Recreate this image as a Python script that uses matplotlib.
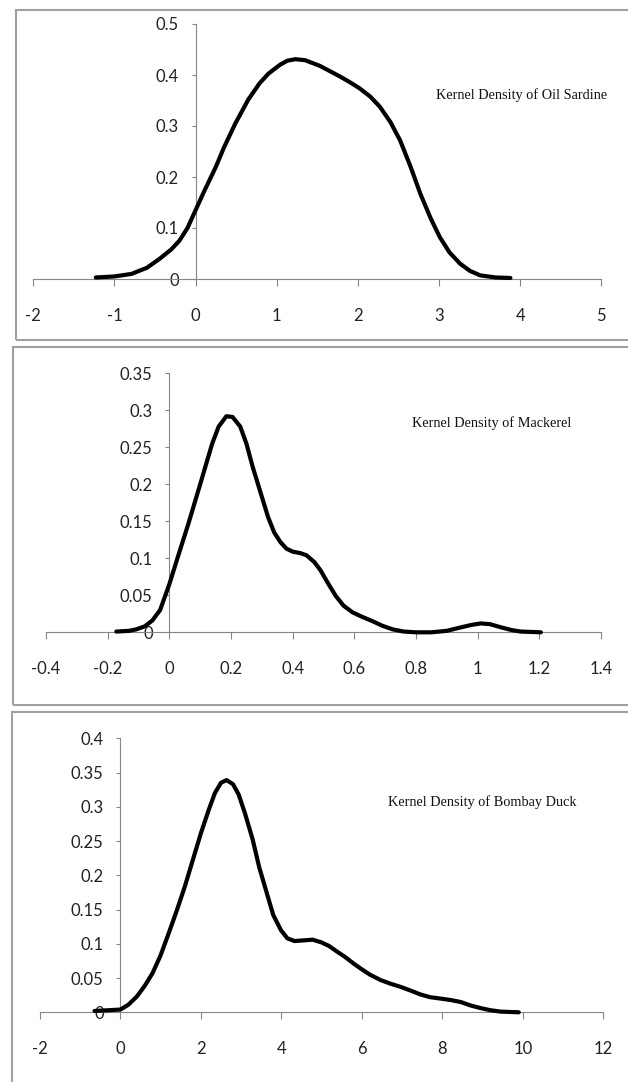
import matplotlib.pyplot as plt
from matplotlib.patches import Rectangle
from matplotlib.ticker import FormatStrFormatter

# Oil Sardine
sardine_x = [-1.23, -1.0, -0.79, -0.6, -0.44, -0.3, -0.2, -0.1, 0.0, 0.1, 0.25, 0.35, 0.49,
             0.65, 0.79, 0.9, 1.04, 1.13, 1.23, 1.35, 1.53, 1.65, 1.78, 1.9, 2.02, 2.15, 2.27,
             2.4, 2.52, 2.65, 2.77, 2.9, 3.01, 3.13, 3.26, 3.38, 3.51, 3.7, 3.88]
sardine_y = [0.003, 0.005, 0.01, 0.022, 0.04, 0.058, 0.075, 0.1, 0.135, 0.17, 0.22, 0.258,
             0.305, 0.352, 0.384, 0.403, 0.42, 0.428, 0.431, 0.429, 0.418, 0.408, 0.397, 0.386,
             0.374, 0.358, 0.338, 0.308, 0.272, 0.22, 0.167, 0.118, 0.082, 0.052, 0.03, 0.016,
             0.007, 0.003, 0.002]

# Mackerel
mackerel_x = [-0.172, -0.13, -0.107, -0.08, -0.055, -0.03, 0.0, 0.03, 0.062, 0.1, 0.139, 0.16,
              0.185, 0.205, 0.23, 0.25, 0.27, 0.295, 0.32, 0.34, 0.36, 0.38, 0.4, 0.425, 0.445,
              0.47, 0.49, 0.515, 0.54, 0.565, 0.594, 0.625, 0.659, 0.69, 0.724, 0.76, 0.80,
              0.85, 0.9, 0.944, 0.98, 1.01, 1.04, 1.075, 1.11, 1.14, 1.205]
mackerel_y = [0.001, 0.002, 0.004, 0.008, 0.016, 0.03, 0.065, 0.105, 0.147, 0.2, 0.255, 0.278,
              0.292, 0.291, 0.278, 0.255, 0.224, 0.19, 0.156, 0.135, 0.122, 0.113, 0.109, 0.107,
              0.104, 0.095, 0.084, 0.066, 0.049, 0.036, 0.027, 0.021, 0.015, 0.009, 0.004,
              0.001, 0.0, 0.0, 0.002, 0.0065, 0.01, 0.012, 0.011, 0.0068, 0.003, 0.001, 0.0]

# Bombay Duck
duck_x = [-0.64, -0.3, 0.0, 0.2, 0.41, 0.6, 0.8, 1.0, 1.2, 1.4, 1.6, 1.8, 2.0, 2.2, 2.35, 2.5,
          2.64, 2.8, 2.94, 3.1, 3.29, 3.45, 3.64, 3.8, 3.99, 4.15, 4.33, 4.55, 4.78, 5.0, 5.18,
          5.4, 5.58, 5.8, 5.97, 6.2, 6.47, 6.7, 6.97, 7.2, 7.46, 7.7, 7.96, 8.2, 8.46, 8.7,
          8.96, 9.2, 9.45, 9.9]
duck_y = [0.002, 0.003, 0.004, 0.011, 0.023, 0.038, 0.057, 0.083, 0.115, 0.148, 0.183, 0.222,
          0.261, 0.296, 0.32, 0.335, 0.339, 0.333, 0.318, 0.29, 0.252, 0.212, 0.174, 0.142,
          0.12, 0.108, 0.104, 0.105, 0.106, 0.102, 0.097, 0.088, 0.081, 0.071, 0.064, 0.055,
          0.047, 0.042, 0.037, 0.032, 0.026, 0.022, 0.02, 0.018, 0.015, 0.01, 0.006, 0.003,
          0.001, 0.0]

W, H = 628, 1082
fig = plt.figure(figsize=(W / 100, H / 100), dpi=100)

tick_font = ['Lato', 'DejaVu Sans']
axis_gray = '#868686'
border_gray = '#a0a0a0'


def px_axes(x0, x1, y_top, y_bot):
    return fig.add_axes([x0 / W, 1 - y_bot / H, (x1 - x0) / W, (y_bot - y_top) / H])


def panel(ax, xs, ys, xlim, xstep, ylim, ystep, label, lx, ly):
    ax.plot(xs, ys, color='black', lw=3, solid_capstyle='round', solid_joinstyle='round',
            zorder=5, clip_on=False)
    ax.set_xlim(*xlim)
    ax.set_ylim(*ylim)
    nx = round((xlim[1] - xlim[0]) / xstep)
    ax.set_xticks([round(xlim[0] + i * xstep, 2) for i in range(nx + 1)])
    ny = round((ylim[1] - ylim[0]) / ystep)
    ax.set_yticks([round(ylim[0] + i * ystep, 2) for i in range(ny + 1)])
    ax.xaxis.set_major_formatter(FormatStrFormatter('%g'))
    ax.yaxis.set_major_formatter(FormatStrFormatter('%g'))
    for s in ['top', 'right']:
        ax.spines[s].set_visible(False)
    ax.spines['left'].set_position(('data', 0))
    for s in ['left', 'bottom']:
        ax.spines[s].set_color(axis_gray)
        ax.spines[s].set_linewidth(0.8)
    ax.tick_params(axis='x', direction='out', length=5, width=0.8, color=axis_gray, pad=16,
                   labelcolor='#222222')
    ax.tick_params(axis='y', direction='out', length=3, width=0.8, color=axis_gray, pad=9,
                   labelcolor='#222222')
    for t in ax.get_xticklabels() + ax.get_yticklabels():
        t.set_family(tick_font)
        t.set_fontsize(12)
    ax.patch.set_alpha(0)
    fig.text(lx / W, 1 - ly / H, label, family='Liberation Serif', fontsize=10.3,
             ha='left', va='center', color='#111111')


ax1 = px_axes(33.3, 601.3, 24, 279)
panel(ax1, sardine_x, sardine_y, (-2, 5), 1, (0, 0.5), 0.1,
      'Kernel Density of Oil Sardine', 436, 95)

ax2 = px_axes(46, 601, 373.3, 632.3)
panel(ax2, mackerel_x, mackerel_y, (-0.4, 1.4), 0.2, (0, 0.35), 0.05,
      'Kernel Density of Mackerel', 412.5, 423)

ax3 = px_axes(39.8, 603.3, 738.3, 1012.3)
panel(ax3, duck_x, duck_y, (-2, 12), 2, (0, 0.4), 0.05,
      'Kernel Density of Bombay Duck', 388, 802)

# panel borders
for x0, y0, x1, y1 in [(16, 10, 640, 340), (12.7, 347, 640, 705), (12, 712, 640, 1100)]:
    fig.patches.append(Rectangle((x0 / W, 1 - y1 / H), (x1 - x0) / W, (y1 - y0) / H,
                                 transform=fig.transFigure, fill=False,
                                 edgecolor=border_gray, lw=1.5))

fig.savefig('out.png', dpi=100)
